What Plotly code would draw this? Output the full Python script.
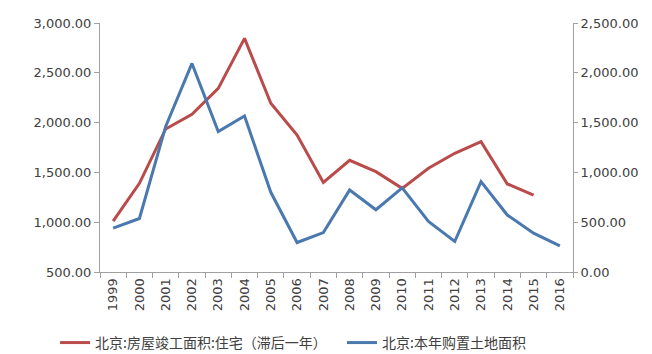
import plotly.graph_objects as go

years = [str(y) for y in range(1999, 2017)]
completed_area = [1010, 1390, 1936, 2083, 2344, 2846, 2194, 1875, 1400, 1621,
                  1507, 1340, 1541, 1692, 1808, 1384, 1273, None]
land_purchase = [441, 537, 1462, 2094, 1411, 1566, 800, 296, 396, 824,
                 625, 844, 507, 306, 907, 572, 390, 262]

name_red = "北京:房屋竣工面积:住宅（滞后一年）"
name_blue = "北京:本年购置土地面积"

fig = go.Figure()
fig.add_trace(go.Scatter(x=years, y=completed_area, name=name_red + "\u2002\u00a0", mode="lines",
                         line=dict(color="#B94B4A", width=3), yaxis="y"))
fig.add_trace(go.Scatter(x=years, y=land_purchase, name=name_blue, mode="lines",
                         line=dict(color="#4A79AF", width=3), yaxis="y2"))

tickfont = dict(family="DejaVu Sans", size=13, color="#404040")
fig.update_layout(
    width=652, height=354,
    margin=dict(l=100, r=79, t=23, b=82, autoexpand=False),
    paper_bgcolor="white", plot_bgcolor="white",
    showlegend=True,
    legend=dict(orientation="h", x=-0.095, xanchor="left", y=-0.285, yanchor="middle",
                font=dict(family="Noto Sans CJK SC", size=14, color="#404040"),
                itemwidth=30),
    xaxis=dict(type="category", tickson="boundaries", ticks="outside", ticklen=5,
               tickcolor="#A0A0A0", showline=True, linecolor="#A0A0A0", linewidth=1,
               showgrid=False, tickangle=-90, tickfont=tickfont, range=[-0.5, 17.5],
               automargin=False),
    yaxis=dict(range=[500, 3000], dtick=500, tickformat=",.2f", showgrid=False,
               showline=True, linecolor="#A0A0A0", ticks="outside", ticklen=5,
               tickcolor="#A0A0A0", tickfont=tickfont, zeroline=False, automargin=False),
    yaxis2=dict(range=[0, 2500], dtick=500, tickformat=",.2f", showgrid=False,
                overlaying="y", side="right", showline=True, linecolor="#A0A0A0",
                ticks="outside", ticklen=4, tickcolor="#A0A0A0", tickfont=tickfont,
                zeroline=False, automargin=False),
)

fig.write_html("out.html")
